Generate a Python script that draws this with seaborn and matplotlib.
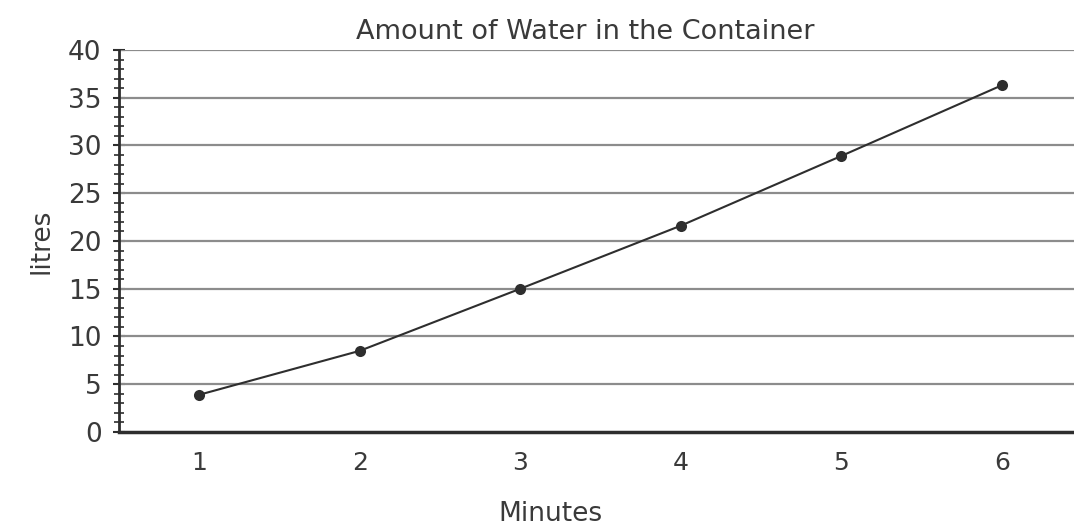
import matplotlib
matplotlib.use("Agg")
import matplotlib.pyplot as plt
import seaborn as sns
import pandas as pd
from matplotlib.ticker import MultipleLocator

minutes = [1, 2, 3, 4, 5, 6]
litres = [3.9, 8.5, 15, 21.6, 28.9, 36.3]
y_ticks = [0, 5, 10, 15, 20, 25, 30, 35, 40]

sns.set_theme(style="white")
plt.rcParams['font.family'] = ['DejaVu Sans']
txt = '#3a3a3a'

df = pd.DataFrame({"Minutes": minutes, "litres": litres})

fig = plt.figure(figsize=(10.74, 5.26), dpi=100)
ax = fig.add_axes([0.1108, 0.1787, 0.8892, 0.7263])

for t in y_ticks[1:]:
    ax.axhline(t, color='#8c8c8c', lw=1.6, zorder=1)

sns.lineplot(data=df, x="Minutes", y="litres", ax=ax, color='#2e2e2e', lw=1.5,
             marker='o', markersize=8, markeredgewidth=0, zorder=3)

ax.set_xlim(0.5, 6.45)
ax.set_ylim(0, 40)
ax.set_xticks(minutes)
ax.set_yticks(y_ticks)
ax.yaxis.set_minor_locator(MultipleLocator(1))
ax.tick_params(axis='x', length=0, pad=14, labelsize=18, labelcolor=txt)
ax.tick_params(axis='y', which='major', direction='inout', length=9, width=1.5,
               color='#2e2e2e', pad=8, labelsize=19, labelcolor=txt, left=True)
ax.tick_params(axis='y', which='minor', direction='inout', length=7, width=1.2,
               color='#2e2e2e', left=True)

for s in ['top', 'right']:
    ax.spines[s].set_visible(False)
ax.spines['left'].set_color('#2e2e2e')
ax.spines['left'].set_linewidth(2)
ax.spines['bottom'].set_color('#2e2e2e')
ax.spines['bottom'].set_linewidth(2.5)

ax.set_title("Amount of Water in the Container", fontsize=19.5, color=txt, pad=8, x=0.488)
ax.set_xlabel("Minutes", fontsize=19, color=txt)
ax.xaxis.set_label_coords(0.452, -0.18)
ax.set_ylabel("litres", fontsize=19, color=txt, labelpad=10)

fig.savefig("out.png", dpi=100)
